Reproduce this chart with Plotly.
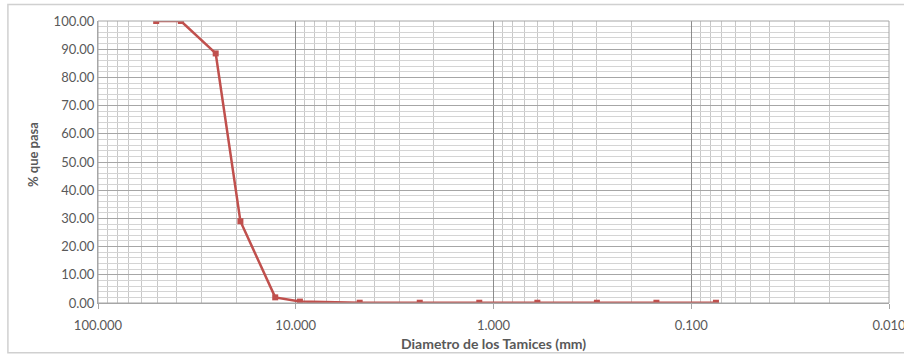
import numpy as np
import plotly.graph_objects as go

# Sieve openings (mm) and cumulative percent passing
diametro_mm = [50.8, 38.1, 25.4, 19.05, 12.7, 9.525, 4.75, 2.36, 1.18, 0.60, 0.30, 0.15, 0.075]
pct_pasa = [100.0, 100.0, 88.5, 29.0, 2.0, 0.5, 0.1, 0.1, 0.1, 0.1, 0.1, 0.1, 0.1]

x_major = [100, 10, 1, 0.1, 0.01]
x_major_text = ["100.000", "10.000", "1.000", "0.100", "0.010"]
x_minor = [m * d for d in [0.01, 0.1, 1, 10] for m in range(2, 10)]

y_major = list(range(0, 101, 10))
y_major_text = [f"{v:.2f}" for v in y_major]

x_title = "<b>Diametro de los Tamices (mm)</b>"
y_title = "<b>% que pasa</b>"

font_family = "Lato, Carlito, Calibri, sans-serif"
text_gray = "#595959"
eps = 1e-5

fig = go.Figure()
fig.add_trace(go.Scatter(
    x=diametro_mm, y=pct_pasa,
    mode="lines+markers",
    line=dict(color="#C0504D", width=2.5),
    marker=dict(symbol="square", size=6, color="#C0504D"),
    showlegend=False,
    hoverinfo="x+y",
))

fig.update_xaxes(
    type="log",
    range=[2 + eps, -2 - eps],
    automargin=False,
    tickmode="array", tickvals=x_major, ticktext=x_major_text,
    ticklabeloverflow="allow",
    showgrid=True, gridcolor="#8c8c8c", gridwidth=1,
    minor=dict(tickmode="array", tickvals=x_minor, showgrid=True,
               gridcolor="#c8c8c8", gridwidth=1, ticks=""),
    showline=True, linecolor="#a6a6a6", linewidth=1,
    ticks="outside", ticklen=5, tickcolor="#a6a6a6",
    ticklabelstandoff=5,
    zeroline=False, mirror=False,
    tickfont=dict(family=font_family, size=13, color=text_gray),
)

fig.update_yaxes(
    range=[0, 100],
    automargin=False,
    tickmode="array", tickvals=y_major, ticktext=y_major_text,
    showgrid=True, gridcolor="#a6a6a6", gridwidth=1,
    minor=dict(dtick=2, showgrid=True, gridcolor="#d4d4d4", gridwidth=1, ticks=""),
    showline=True, linecolor="#a6a6a6", linewidth=1,
    ticks="", zeroline=False,
    tickfont=dict(family=font_family, size=13, color=text_gray),
)

# Axis titles
fig.add_annotation(text=x_title, xref="paper", yref="paper", x=0.5, y=-0.144,
                   xanchor="center", yanchor="middle", showarrow=False,
                   font=dict(family=font_family, size=14, color=text_gray))
fig.add_annotation(text=y_title, xref="paper", yref="paper", x=-0.083, y=0.526,
                   xanchor="center", yanchor="middle", showarrow=False, textangle=-90,
                   font=dict(family=font_family, size=13, color=text_gray))

# Plot frame (right and top edges) and outer chart border
fig.add_shape(type="rect", xref="paper", yref="paper", x0=0, x1=1, y0=0, y1=1,
              line=dict(color="#a6a6a6", width=1), layer="above")
fig.add_shape(type="rect", xref="paper", yref="paper",
              x0=-0.1139, x1=1.03, y0=-0.1765, y1=1.0585,
              line=dict(color="#d0d0d0", width=1.5), layer="below")

fig.update_layout(
    width=904, height=356,
    margin=dict(l=98, r=15, t=21, b=53),
    plot_bgcolor="white", paper_bgcolor="white",
    font=dict(family=font_family, color=text_gray),
)

fig.write_html("out.html")
